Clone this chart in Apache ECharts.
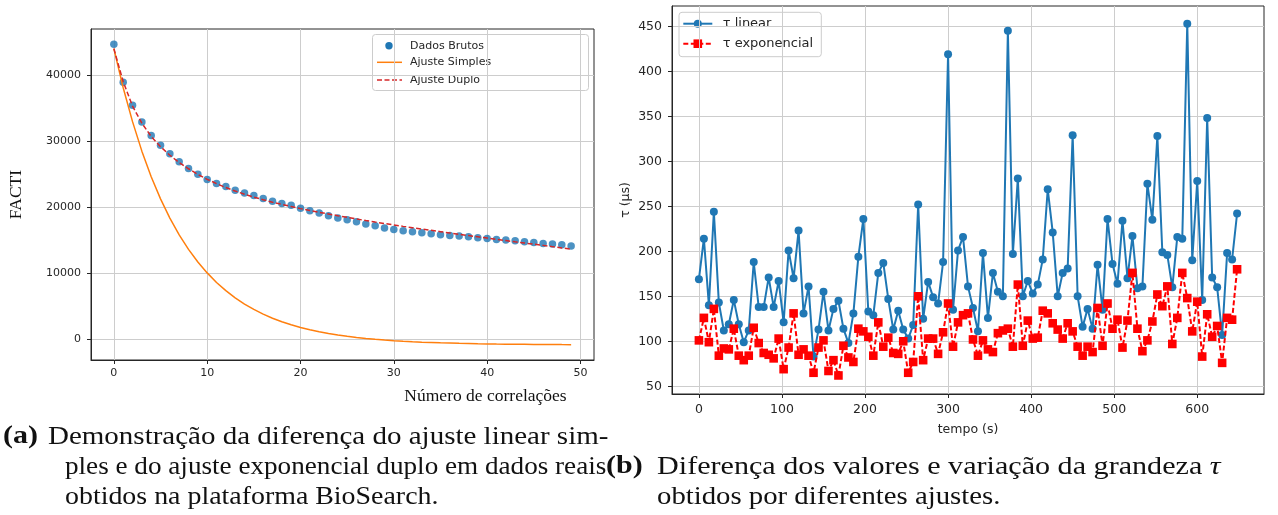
<!DOCTYPE html>
<html>
<head>
<meta charset="utf-8">
<script src="https://cdn.jsdelivr.net/npm/echarts@6/dist/echarts.min.js"></script>
<style>
  html, body { margin: 0; padding: 0; background: #fff; }
  #chart { width: 1278px; height: 515px; }
</style>
</head>
<body>
<div id="chart"></div>
<script>
// ---------- (a) FACTI versus number of correlations ----------
const correlacoes = [0,1,2,3,4,5,6,7,8,9,10,11,12,13,14,15,16,17,18,19,20,21,22,23,24,25,26,27,28,29,30,31,32,33,34,35,36,37,38,39,40,41,42,43,44,45,46,47,48,49];
const dadosBrutos = [44680,38900,35410,32880,30850,29380,28070,26850,25840,24970,24160,23560,23100,22540,22140,21730,21280,20870,20520,20260,19800,19450,19100,18690,18340,18090,17780,17430,17170,16820,16600,16420,16260,16110,15960,15810,15700,15610,15500,15350,15240,15090,15000,14890,14740,14640,14480,14390,14290,14090];
const ajusteSimples = [44000,38080,32940,28470,24600,21240,18320,15780,13580,11670,10020,8570,7330,6240,5300,4480,3770,3150,2620,2160,1750,1400,1100,840,610,410,240,90,-40,-155,-250,-340,-415,-480,-530,-580,-620,-660,-690,-720,-740,-765,-780,-800,-810,-825,-835,-840,-850,-855];
const ajusteDuplo = [44000,39000,35300,32700,30700,29150,27850,26750,25800,24950,24200,23550,22950,22420,21940,21500,21100,20740,20400,20080,19760,19480,19210,18950,18690,18440,18190,17950,17720,17500,17280,17070,16870,16670,16470,16270,16070,15870,15680,15490,15300,15110,14920,14730,14550,14370,14190,14000,13810,13630];
const ticksA_x = [0, 10, 20, 30, 40, 50];
const ticksA_y = [0, 10000, 20000, 30000, 40000];

// ---------- (b) tau over time ----------
const tempo = [0,6,12,18,24,30,36,42,48,54,60,66,72,78,84,90,96,102,108,114,120,126,132,138,144,150,156,162,168,174,180,186,192,198,204,210,216,222,228,234,240,246,252,258,264,270,276,282,288,294,300,306,312,318,324,330,336,342,348,354,360,366,372,378,384,390,396,402,408,414,420,426,432,438,444,450,456,462,468,474,480,486,492,498,504,510,516,522,528,534,540,546,552,558,564,570,576,582,588,594,600,606,612,618,624,630,636,642,648];
const tauLinear = [169,214,140,244,143,112,119,146,119,99,112,188,138,138,171,138,167,121,201,170,223,131,161,83,113,155,112,136,145,114,98,131,194,236,133,129,176,187,147,113,134,113,103,118,252,125,166,149,142,188,419,135,201,216,161,137,111,198,126,176,155,150,445,197,281,150,167,153,163,191,269,221,150,176,181,329,150,116,136,114,185,135,236,186,164,234,170,217,159,161,275,235,328,199,196,160,216,214,453,190,278,146,348,171,160,107,198,191,242];
const tauExponencial = [101,126,99,136,84,92,91,114,84,79,84,115,98,87,85,81,103,69,93,131,85,91,84,65,93,101,67,79,62,95,82,77,114,111,105,84,121,94,104,87,86,100,65,77,150,79,103,103,86,110,142,94,121,129,131,102,84,101,91,88,109,112,114,94,163,95,123,103,104,134,131,120,113,103,120,111,94,84,94,88,137,95,142,114,124,93,123,176,114,89,101,122,152,139,161,97,126,176,148,111,144,83,130,105,117,76,126,124,180];
const ticksB_x = [0, 100, 200, 300, 400, 500, 600];
const ticksB_y = [50, 100, 150, 200, 250, 300, 350, 400, 450];

const INK = '#262626';
const GRIDLINE = '#cdcdcd';
const C_BLUE = '#1f77b4';
const C_ORANGE = '#ff7f0e';
const C_DRED = '#d62728';
const C_RED = '#ff0000';
const SANS = 'DejaVu Sans';
const SERIF = 'Liberation Serif';

function pairs(xs, ys) { return xs.map((x, i) => [x, ys[i]]); }

// matplotlib-like value axis: outward ticks, grid lines at the given ticks
function mplAxis(gridIndex, min, max, ticks, fontSize, margin, extra) {
  return Object.assign({
    type: 'value',
    gridIndex: gridIndex,
    min: min,
    max: max,
    axisLine: { show: true, onZero: false, lineStyle: { color: INK, width: 1 } },
    axisTick: { show: true, inside: false, length: 4, customValues: ticks, lineStyle: { color: INK, width: 1 } },
    axisLabel: { show: true, customValues: ticks, color: INK, fontFamily: SANS, fontSize: fontSize, margin: margin, formatter: v => String(v) },
    splitLine: { show: true, lineStyle: { color: GRIDLINE, width: 1 } },
    minorTick: { show: false },
    minorSplitLine: { show: false }
  }, extra || {});
}

const chart = echarts.init(document.getElementById('chart'), null, { renderer: 'canvas', width: 1278, height: 515 });

const legendA = {
  type: 'group', z: 20, children: [
    { type: 'rect', shape: { x: 372.5, y: 34.5, width: 216, height: 56, r: 3 }, style: { fill: 'rgba(255,255,255,0.8)', stroke: '#cccccc', lineWidth: 1 } },
    { type: 'circle', shape: { cx: 389, cy: 45.7, r: 3.7 }, style: { fill: C_BLUE } },
    { type: 'text', x: 410, y: 45.7, style: { text: 'Dados Brutos', font: '11px "DejaVu Sans"', fill: INK, verticalAlign: 'middle' } },
    { type: 'line', shape: { x1: 377, y1: 62.3, x2: 402, y2: 62.3 }, style: { stroke: C_ORANGE, lineWidth: 1.5 } },
    { type: 'text', x: 410, y: 62.3, style: { text: 'Ajuste Simples', font: '11px "DejaVu Sans"', fill: INK, verticalAlign: 'middle' } },
    { type: 'line', shape: { x1: 377, y1: 80, x2: 402, y2: 80 }, style: { stroke: C_DRED, lineWidth: 1.5, lineDash: [5, 2.5] } },
    { type: 'text', x: 410, y: 80, style: { text: 'Ajuste Duplo', font: '11px "DejaVu Sans"', fill: INK, verticalAlign: 'middle' } }
  ]
};

const legendB = {
  type: 'group', z: 20, children: [
    { type: 'rect', shape: { x: 679, y: 12.3, width: 142.3, height: 44.4, r: 3 }, style: { fill: 'rgba(255,255,255,0.8)', stroke: '#cccccc', lineWidth: 1 } },
    { type: 'line', shape: { x1: 683.3, y1: 23.7, x2: 712.3, y2: 23.7 }, style: { stroke: C_BLUE, lineWidth: 2 } },
    { type: 'circle', shape: { cx: 697.8, cy: 23.7, r: 4 }, style: { fill: C_BLUE } },
    { type: 'text', x: 722.7, y: 23.7, style: { text: 'τ linear', font: '13px "DejaVu Sans"', fill: INK, verticalAlign: 'middle' } },
    { type: 'line', shape: { x1: 683.3, y1: 43.7, x2: 712.3, y2: 43.7 }, style: { stroke: C_RED, lineWidth: 2, lineDash: [5, 2.5] } },
    { type: 'rect', shape: { x: 693.5, y: 39.4, width: 8.6, height: 8.6 }, style: { fill: C_RED } },
    { type: 'text', x: 722.7, y: 43.7, style: { text: 'τ exponencial', font: '13px "DejaVu Sans"', fill: INK, verticalAlign: 'middle' } }
  ]
};

const capFont = '25px "Liberation Serif"';
const capBold = 'bold 25px "Liberation Serif"';
function capText(x, y, text, font, sx, rich) {
  const st = { text: text, font: font, fill: '#111', verticalAlign: 'middle', align: 'left' };
  if (rich) st.rich = rich;
  return { type: 'text', x: x, y: y, scaleX: sx, z: 20, style: st };
}

const captions = [
  capText(3, 437, '(a)', capBold, 1.2),
  capText(48, 437, 'Demonstração da diferença do ajuste linear sim-', capFont, 1.16),
  capText(65, 467, 'ples e do ajuste exponencial duplo em dados reais', capFont, 1.086),
  capText(65, 497, 'obtidos na plataforma BioSearch.', capFont, 1.116),
  capText(606, 467, '(b)', capBold, 1.2),
  capText(657, 467, 'Diferença dos valores e variação da grandeza {t|τ}', capFont, 1.205,
          { t: { font: 'italic 25px "Liberation Serif"', fill: '#111' } }),
  capText(657, 497, 'obtidos por diferentes ajustes.', capFont, 1.15)
];

const option = {
  animation: false,
  backgroundColor: '#ffffff',
  grid: [
    { left: 91, top: 29, width: 503, height: 331, show: true, borderColor: INK, borderWidth: 1, backgroundColor: 'transparent', containLabel: false, outerBoundsMode: 'none' },
    { left: 672, top: 6, width: 592, height: 388, show: true, borderColor: INK, borderWidth: 1, backgroundColor: 'transparent', containLabel: false, outerBoundsMode: 'none' }
  ],
  xAxis: [
    mplAxis(0, -2.45, 51.45, ticksA_x, 11, 8),
    mplAxis(1, -32.4, 680.4, ticksB_x, 12.5, 9, {
      name: 'tempo (s)', nameLocation: 'middle', nameGap: 29,
      nameTextStyle: { fontFamily: SANS, fontSize: 12.5, color: INK }
    })
  ],
  yAxis: [
    mplAxis(0, -3180, 46980, ticksA_y, 11, 10, {
      name: 'FACTI', nameLocation: 'middle', nameGap: 66, nameRotate: 90,
      nameTextStyle: { fontFamily: SERIF, fontSize: 17.5, color: '#111' }
    }),
    mplAxis(1, 41.4, 472.6, ticksB_y, 12.5, 10, {
      name: 'τ (µs)', nameLocation: 'middle', nameGap: 40, nameRotate: 90,
      nameTextStyle: { fontFamily: SANS, fontSize: 12.5, color: INK }
    })
  ],
  series: [
    {
      name: 'Dados Brutos', type: 'scatter', xAxisIndex: 0, yAxisIndex: 0, z: 3,
      data: pairs(correlacoes, dadosBrutos), symbol: 'circle', symbolSize: 7.5,
      itemStyle: { color: C_BLUE }
    },
    {
      name: 'Ajuste Simples', type: 'line', xAxisIndex: 0, yAxisIndex: 0, z: 4,
      data: pairs(correlacoes, ajusteSimples), symbol: 'none', smooth: false,
      lineStyle: { color: C_ORANGE, width: 1.5 }
    },
    {
      name: 'Ajuste Duplo', type: 'line', xAxisIndex: 0, yAxisIndex: 0, z: 5,
      data: pairs(correlacoes, ajusteDuplo), symbol: 'none',
      lineStyle: { color: C_DRED, width: 1.5, type: [5, 2.5] }
    },
    {
      name: 'τ linear', type: 'line', xAxisIndex: 1, yAxisIndex: 1, z: 3,
      data: pairs(tempo, tauLinear), symbol: 'circle', symbolSize: 8, showAllSymbol: true,
      lineStyle: { color: C_BLUE, width: 2 }, itemStyle: { color: C_BLUE }
    },
    {
      name: 'τ exponencial', type: 'line', xAxisIndex: 1, yAxisIndex: 1, z: 4,
      data: pairs(tempo, tauExponencial), symbol: 'rect', symbolSize: 8.6, showAllSymbol: true,
      lineStyle: { color: C_RED, width: 2, type: [5, 2.5] }, itemStyle: { color: C_RED }
    }
  ],
  graphic: [
    legendA,
    legendB,
    { type: 'text', x: 485.5, y: 396.7, z: 20, style: { text: 'Número de correlações', font: '17.5px "Liberation Serif"', fill: '#111', align: 'center', verticalAlign: 'middle' } }
  ].concat(captions)
};

chart.setOption(option);
</script>
</body>
</html>
